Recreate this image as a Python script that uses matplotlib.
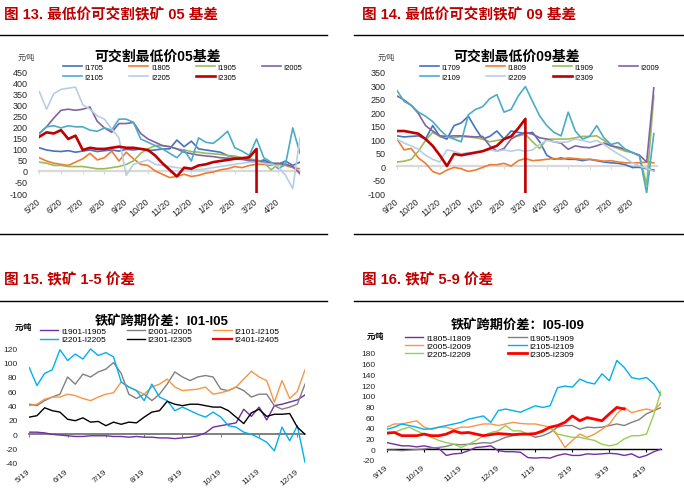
import numpy as np
import matplotlib
matplotlib.use("Agg")
import matplotlib.pyplot as plt
from matplotlib.lines import Line2D

plt.rcParams['font.family'] = ['Liberation Sans', 'Noto Sans CJK SC', 'DejaVu Sans']
plt.rcParams['axes.unicode_minus'] = False

W, H = 684, 489

# ---------- 图13: 05 基差 (one value every ~10 days, from 5/20) ----------
ticks13 = ["5/20", "6/20", "7/20", "8/20", "9/20", "10/20", "11/20", "12/20",
           "1/20", "2/20", "3/20", "4/20"]
i1705 = [105, 95, 90, 88, 92, 85, 90, 95, 88, 92, 95, 90, 98, 95, 100, 92, 95, 100, 100, 140,
         110, 135, 100, 95, 90, 85, 70, 60, 55, 45, 40, 50, 35, 30, 45, 25, 40]
i1805 = [60, 45, 35, 30, 25, 40, 55, 80, 50, 60, 90, 45, 85, 55, 30, 25, 0, -15, -30, -25,
         -15, -25, -20, -10, -5, 5, 10, 20, 15, 25, 30, 30, 25, 30, 25, 15, 10]
i1905 = [40, 35, 25, 25, 20, 20, 20, 15, 10, 10, 15, 20, 30, 45, 80, 100, 115, 115, 110, 100,
         95, 88, 85, 80, 78, 75, 70, 68, 60, 55, 50, 40, 5, 30, 30, 20, -15]
i2005 = [170, 200, 240, 275, 280, 275, 280, 290, 225, 195, 175, 215, 215, 220, 170, 145, 130, 115, 110, 100,
         85, 78, 72, 68, 65, 60, 58, 55, 52, 50, 45, 40, 35, 35, 30, 20, -10]
i2105 = [170, 200, 205, 195, 205, 200, 200, 185, 180, 195, 185, 235, 235, 220, 145, 130, 115, 100, 80, 60,
         95, 45, 150, 130, 125, 150, 180, 105, 90, 70, 145, 60, 40, 10, 30, 195, 80]
i2205 = [360, 280, 350, 370, 375, 380, 300, 280, 250, 235, 190, 150, -20, 30, 40, 50, 30, 25, 20, 15,
         10, 0, 5, 10, 15, 20, 25, 30, 35, 40, 40, 35, 30, 20, -20, -80, 150]
i2305 = [155, 175, 170, 185, 145, 160, 95, 105, 100, 100, 105, 110, 105, 105, 100, 95, 70, 35, 5, -25,
         15, 10, 25, 30, 40, 45, 50, 55, 58, 62, 100]
i2305_drop = -100

# ---------- 图14: 09 基差 (from 9/20) ----------
ticks14 = ["9/20", "10/20", "11/20", "12/20", "1/20", "2/20", "3/20", "4/20",
           "5/20", "6/20", "7/20", "8/20"]
i1709 = [112, 108, 110, 112, 100, 150, 110, 100, 150, 160, 185, 140, 100, 110, 130, 100, 130, 125, 120, 125,
         90, 40, 25, 30, 25, 25, 20, 25, 20, 15, 12, 10, 5, -5, -5, -10, -15]
i1809 = [100, 60, 65, 30, 10, -20, -30, -15, -5, -10, -20, -15, -5, 5, 5, 10, 0, 20, 28, 20,
         22, 25, 28, 25, 30, 28, 25, 25, 22, 18, 20, 15, 12, 12, 12, 15, 12]
i1909 = [15, 18, 25, 55, 95, 125, 110, 108, 105, 110, 108, 105, 100, 90, 95, 100, 108, 112, 118, 90,
         65, 100, 100, 100, 100, 105, 110, 110, 112, 95, 75, 65, 55, 50, 40, -70, 260]
i2009 = [260, 245, 225, 195, 150, 130, 112, 110, 112, 112, 110, 108, 110, 75, 55, 65, 100, 115, 125, 118,
         105, 100, 90, 85, 62, 75, 70, 68, 75, 85, 75, 70, 62, 50, 40, 15, 290]
i2109 = [280, 240, 225, 200, 185, 165, 135, 110, 100, 90, 190, 210, 220, 250, 265, 200, 210, 260, 295, 240,
         186, 150, 125, 112, 200, 130, 100, 110, 150, 105, 80, 87, 62, 50, 37, -100, 120]
i2209 = [100, 85, 75, 62, 40, 25, 15, 60, 55, 45, 50, 50, 55, 60, 55, 60, 55, 60, 55, 60,
         80, 95, 90, 88, 90, 100, 95, 88, 95, 80, 62, 45, 30, 12, 0, -8, -20]
i2309 = [130, 130, 125, 120, 100, 75, 40, 0, 45, 40, 45, 50, 55, 65, 75, 100, 110, 140, 175]
i2309_drop = -100

# ---------- 图15: 1-5 价差 (one value every ~6 days, from 5/19) ----------
ticks15 = ["5/19", "6/19", "7/19", "8/19", "9/19", "10/19", "11/19", "12/19"]
s1901 = [3, 3, 2, 0, -1, -2, -3, -3, -2, -2, -2, -3, -3, -4, -3, -4, -4, -5, -5, -6,
         -5, -4, -2, 2, 10, 12, 14, 16, 35, 25, 38, 20, 40, 42, 45, 48, 55]
s2001 = [42, 40, 47, 52, 56, 80, 70, 84, 80, 87, 91, 100, 85, 56, 50, 56, 47, 56, 70, 87,
         80, 75, 80, 82, 80, 63, 61, 66, 61, 52, 56, 56, 40, 35, 38, 42, 70]
s2101 = [40, 42, 49, 52, 52, 56, 54, 50, 47, 52, 56, 58, 73, 66, 61, 56, 66, 70, 77, 66,
         61, 62, 63, 66, 56, 58, 61, 66, 77, 88, 80, 75, 45, 75, 50, 60, 90]
s2201 = [93, 68, 85, 90, 118, 103, 112, 105, 119, 110, 114, 108, 73, 66, 61, 47, 70, 52, 47, 33,
         38, 33, 28, 24, 31, 24, 12, 10, 3, 0, -5, -11, -23, 10, -9, 12, -39]
s2301 = [24, 26, 37, 33, 31, 21, 19, 23, 17, 18, 12, 17, 14, 17, 16, 24, 31, 33, 46, 42,
         40, 42, 42, 40, 38, 38, 33, 24, 15, 30, 35, 25, 28, 28, 29, 10, 0]
s2401 = []

# ---------- 图16: 5-9 价差 (from 9/19) ----------
ticks16 = ["9/19", "10/19", "11/19", "12/19", "1/19", "2/19", "3/19", "4/19"]
s1805 = [12, 9, 6, 6, 4, 6, 3, 1, -12, -9, -8, -3, 3, 4, 6, -3, -5, -5, -6, -16,
         -17, -16, -17, -12, -9, -12, -12, -9, -10, -9, -8, -9, -12, -9, -16, -12, -5, 0]
s1905 = [-2, -2, -3, -2, -1, 0, 2, 3, 5, 9, 8, 9, 10, 12, 11, 16, 22, 25, 28, 28,
         22, 25, 31, 41, 44, 44, 37, 41, 40, 41, 44, 47, 44, 50, 55, 66, 72, 78]
s2005 = [41, 47, 47, 50, 53, 41, 37, 41, 41, 37, 41, 41, 44, 47, 47, 44, 47, 50, 48, 47,
         47, 44, 41, 25, 3, 16, 28, 22, 28, 37, 47, 66, 78, 68, 72, 75, 72, 87]
s2105 = [37, 41, 47, 44, 41, 37, 38, 41, 44, 47, 50, 56, 59, 62, 50, 72, 75, 72, 69, 75,
         81, 78, 81, 115, 118, 116, 131, 125, 122, 141, 128, 166, 153, 134, 131, 134, 122, 100]
s2205 = [28, 31, 37, 41, 34, 28, 22, 16, 12, 9, 3, 9, 16, 25, 31, 34, 44, 34, 34, 28,
         28, 31, 41, 28, 25, 22, 22, 19, 16, 9, 6, 9, 19, 25, 25, 28, 65, 110]
s2305 = [30, 31, 25, 25, 25, 28, 25, 25, 28, 34, 30, 31, 28, 25, 27, 29, 28, 27, 28, 28,
         29, 34, 41, 44, 50, 62, 53, 59, 56, 53, 66, 78, 75]

RED_TITLE = '#C00000'
TICK_COLOR = '#262626'

fig = plt.figure(figsize=(W / 100, H / 100), dpi=100)


def px_axes(left, top, right, bottom):
    return fig.add_axes([left / W, 1 - bottom / H, (right - left) / W, (bottom - top) / H])


def hline(x0, x1, y):
    fig.add_artist(Line2D([x0 / W, x1 / W], [1 - y / H, 1 - y / H], transform=fig.transFigure,
                          color='black', lw=1.0))


def text_px(x, y, s, **kw):
    fig.text(x / W, 1 - y / H, s, **kw)


def setup(ax, xlim, ylim, ystep, labels, zero_color, zero_lw, fs=6.5):
    ax.set_xlim(*xlim)
    ax.set_ylim(*ylim)
    ax.set_yticks(np.arange(ylim[0], ylim[1] + 1, ystep))
    for side in ['left', 'right', 'top']:
        ax.spines[side].set_visible(False)
    ax.spines['bottom'].set_position(('data', 0))
    ax.spines['bottom'].set_color(zero_color)
    ax.spines['bottom'].set_linewidth(zero_lw)
    ax.spines['bottom'].set_zorder(0.5)
    ax.set_xticks(range(len(labels)))
    ax.tick_params(axis='x', length=2.5, width=0.8, color=zero_color, labelbottom=False)
    ax.tick_params(axis='y', length=0, pad=8.5, labelsize=fs, labelcolor=TICK_COLOR)
    ax.patch.set_visible(False)
    sec = ax.secondary_xaxis('bottom')
    sec.set_xticks(range(len(labels)), labels)
    sec.tick_params(length=0, pad=5, labelsize=fs, labelcolor=TICK_COLOR)
    sec.spines['bottom'].set_visible(False)
    plt.setp(sec.get_xticklabels(), rotation=40, ha='right', va='center', rotation_mode='anchor')


def series(ax, vals, step, color, lw, label, drop=None):
    x = np.arange(len(vals)) * step
    y = np.array(vals, dtype=float)
    if drop is not None:
        x = np.append(x, x[-1])
        y = np.append(y, drop)
    ax.plot(x, y, color=color, lw=lw, label=label, solid_joinstyle='round')


def row_legend(ax, order, x, y, **kw):
    # legend fills column by column, so pass entries in that order to read row by row
    h, l = ax.get_legend_handles_labels()
    leg = ax.legend([h[i] for i in order], [l[i] for i in order], loc='upper left',
                    bbox_to_anchor=(x / W, 1 - y / H), bbox_transform=fig.transFigure,
                    frameon=False, borderpad=0, borderaxespad=0, handletextpad=0.3, **kw)
    return leg


# ================= 图13 =================
text_px(4, 15, "图 13. 最低价可交割铁矿 05 基差", fontsize=10.5, fontweight='bold',
        color=RED_TITLE, va='center')
hline(0, 327, 36)
hline(0, 327, 235)
text_px(158, 57, "可交割最低价05基差", fontsize=10, fontweight='bold', ha='center', va='center')
text_px(18, 58, "元/吨", fontsize=5.5, va='center', color='#404040')
ax1 = px_axes(39.3, 72.7, 300, 194)
setup(ax1, (0, 12), (-100, 450), 50, ticks13, '#D9D9D9', 1.6)
c13 = ['#4472C4', '#ED7D31', '#9BBB59', '#8064A2', '#4BACC6', '#B9CDE5', '#C00000']
n13 = ['I1705', 'I1805', 'I1905', 'I2005', 'I2105', 'I2205', 'I2305']
for v, c, n in zip([i1705, i1805, i1905, i2005, i2105, i2205], c13, n13):
    series(ax1, v, 1 / 3, c, 1.2, n)
series(ax1, i2305, 1 / 3, c13[6], 1.9, n13[6], drop=i2305_drop)
row_legend(ax1, [0, 4, 1, 5, 2, 6, 3], 63, 64.5, ncol=4, fontsize=5.5, handlelength=2.5,
           columnspacing=3.4, labelspacing=0.35)

# ================= 图14 =================
text_px(362, 15, "图 14. 最低价可交割铁矿 09 基差", fontsize=10.5, fontweight='bold',
        color=RED_TITLE, va='center')
hline(354, 684, 36)
hline(354, 684, 235)
text_px(517, 57, "可交割最低价09基差", fontsize=10, fontweight='bold', ha='center', va='center')
text_px(378, 58, "元/吨", fontsize=5.5, va='center', color='#404040')
ax2 = px_axes(397, 72.7, 657, 194)
setup(ax2, (0, 12.15), (-100, 350), 50, ticks14, '#D9D9D9', 1.6)
n14 = ['I1709', 'I1809', 'I1909', 'I2009', 'I2109', 'I2209', 'I2309']
for v, c, n in zip([i1709, i1809, i1909, i2009, i2109, i2209], c13, n14):
    series(ax2, v, 1 / 3, c, 1.2, n)
series(ax2, i2309, 1 / 3, c13[6], 1.9, n14[6], drop=i2309_drop)
row_legend(ax2, [0, 4, 1, 5, 2, 6, 3], 420, 64.5, ncol=4, fontsize=5.5, handlelength=2.5,
           columnspacing=3.4, labelspacing=0.35)

# ================= 图15 =================
text_px(4, 280, "图 15. 铁矿 1-5 价差", fontsize=10.5, fontweight='bold', color=RED_TITLE, va='center')
hline(0, 327, 302)
text_px(162, 321, "铁矿跨期价差：I01-I05", fontsize=9.5, fontweight='bold', ha='center', va='center')
text_px(15, 328, "元/吨", fontsize=5.5, va='center', fontweight='bold')
ax3 = px_axes(29.3, 349.3, 305, 464)
setup(ax3, (0, 7.2), (-40, 120), 20, ticks15, '#808080', 1.4, fs=6)
c15 = ['#7030A0', '#808080', '#F79646', '#00B0F0', '#000000', '#FF0000']
n15 = ['I1901-I1905', 'I2001-I2005', 'I2101-I2105', 'I2201-I2205', 'I2301-I2305', 'I2401-I2405']
for v, c, n in zip([s1901, s2001, s2101, s2201, s2301, s2401], c15, n15):
    series(ax3, v, 0.2, c, 1.0, n)
leg3 = row_legend(ax3, [0, 3, 1, 4, 2, 5], 40, 328, ncol=3, fontsize=6, handlelength=2.2,
                  columnspacing=2.5, labelspacing=0.1)
leg3.get_lines()[5].set_linewidth(1.6)

# ================= 图16 =================
text_px(362, 280, "图 16. 铁矿 5-9 价差", fontsize=10.5, fontweight='bold', color=RED_TITLE, va='center')
hline(354, 684, 302)
text_px(518, 325, "铁矿跨期价差：I05-I09", fontsize=9.5, fontweight='bold', ha='center', va='center')
text_px(367, 337, "元/吨", fontsize=5.5, va='center', fontweight='bold')
ax4 = px_axes(387, 354, 661.3, 460.7)
setup(ax4, (0, 7.4), (-20, 180), 20, ticks16, '#000000', 1.0, fs=6)
c16 = ['#7030A0', '#808080', '#F79646', '#00B0F0', '#92D050', '#FF0000']
n16 = ['I1805-I1809', 'I1905-I1909', 'I2005-I2009', 'I2105-I2109', 'I2205-I2209', 'I2305-I2309']
for v, c, n in zip([s1805, s1905, s2005, s2105, s2205], c16, n16):
    series(ax4, v, 0.2, c, 1.0, n)
series(ax4, s2305, 0.2, c16[5], 2.0, n16[5])
row_legend(ax4, [0, 2, 4, 1, 3, 5], 405, 335, ncol=2, fontsize=6, handlelength=2.2,
           columnspacing=4.5, labelspacing=0.05)

fig.savefig("out.png", dpi=100)
